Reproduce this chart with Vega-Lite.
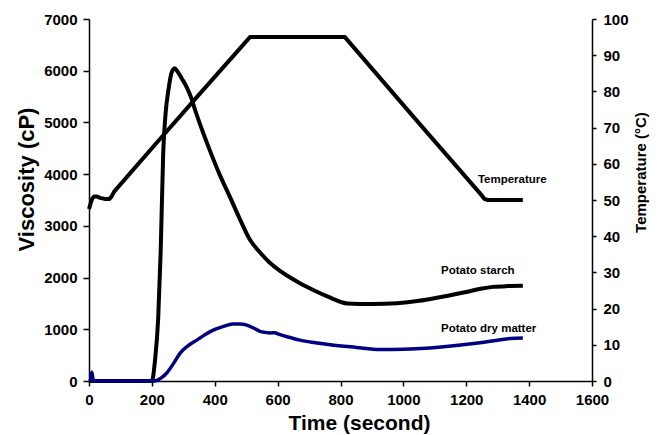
{
  "$schema": "https://vega.github.io/schema/vega-lite/v6.json",
  "width": 503,
  "height": 362,
  "autosize": "none",
  "padding": {"left": 89, "top": 19, "right": 65, "bottom": 54},
  "background": "white",
  "config": {
    "view": {"stroke": null},
    "font": "Liberation Sans",
    "axis": {
      "grid": false,
      "domainColor": "black",
      "domainWidth": 1.5,
      "tickColor": "black",
      "tickWidth": 1.5,
      "labelFont": "Liberation Sans",
      "labelFontWeight": "bold",
      "labelFontSize": 15,
      "labelColor": "black",
      "titleFont": "Liberation Sans",
      "titleFontWeight": "bold",
      "titleColor": "black",
      "format": "d"
    }
  },
  "datasets": {
    "starch": [
      {"t": 0, "v": 0}, {"t": 200, "v": 0}, {"t": 210, "v": 400}, {"t": 220, "v": 1200},
      {"t": 228, "v": 2500}, {"t": 236, "v": 4400}, {"t": 244, "v": 5200}, {"t": 252, "v": 5600},
      {"t": 262, "v": 5950}, {"t": 272, "v": 6050}, {"t": 282, "v": 5980}, {"t": 295, "v": 5850},
      {"t": 311, "v": 5680}, {"t": 325, "v": 5480}, {"t": 337, "v": 5250}, {"t": 360, "v": 4850},
      {"t": 385, "v": 4450}, {"t": 415, "v": 4000}, {"t": 449, "v": 3550}, {"t": 480, "v": 3130},
      {"t": 512, "v": 2730}, {"t": 545, "v": 2480}, {"t": 576, "v": 2280}, {"t": 610, "v": 2120},
      {"t": 640, "v": 2000}, {"t": 671, "v": 1890}, {"t": 713, "v": 1760}, {"t": 760, "v": 1630},
      {"t": 800, "v": 1530}, {"t": 821, "v": 1500}, {"t": 900, "v": 1490}, {"t": 980, "v": 1505},
      {"t": 1050, "v": 1550}, {"t": 1116, "v": 1620}, {"t": 1200, "v": 1720}, {"t": 1250, "v": 1790},
      {"t": 1285, "v": 1820}, {"t": 1330, "v": 1835}, {"t": 1380, "v": 1840}
    ],
    "dry": [
      {"t": 0, "v": 0}, {"t": 5, "v": 30}, {"t": 9, "v": 170}, {"t": 12, "v": 60}, {"t": 15, "v": 0},
      {"t": 200, "v": 0}, {"t": 215, "v": 10}, {"t": 230, "v": 60}, {"t": 248, "v": 160},
      {"t": 270, "v": 350}, {"t": 290, "v": 540}, {"t": 315, "v": 680}, {"t": 343, "v": 790},
      {"t": 370, "v": 900}, {"t": 395, "v": 985}, {"t": 425, "v": 1050}, {"t": 458, "v": 1100},
      {"t": 480, "v": 1100}, {"t": 502, "v": 1080}, {"t": 525, "v": 1020}, {"t": 544, "v": 960},
      {"t": 560, "v": 940}, {"t": 576, "v": 930}, {"t": 590, "v": 935}, {"t": 605, "v": 900},
      {"t": 640, "v": 840}, {"t": 671, "v": 790}, {"t": 720, "v": 740}, {"t": 767, "v": 700},
      {"t": 850, "v": 650}, {"t": 926, "v": 610}, {"t": 1000, "v": 615}, {"t": 1085, "v": 640},
      {"t": 1160, "v": 680}, {"t": 1244, "v": 740}, {"t": 1300, "v": 790}, {"t": 1340, "v": 820},
      {"t": 1380, "v": 830}
    ],
    "temp": [
      {"t": 0, "c": 47.5}, {"t": 5, "c": 49}, {"t": 10, "c": 50.3}, {"t": 16, "c": 51},
      {"t": 24, "c": 51}, {"t": 35, "c": 50.6}, {"t": 50, "c": 50.3}, {"t": 65, "c": 50.3},
      {"t": 72, "c": 51}, {"t": 80, "c": 52.3}, {"t": 200, "c": 64.3}, {"t": 350, "c": 79.1},
      {"t": 512, "c": 95}, {"t": 814, "c": 95}, {"t": 1035, "c": 72.7}, {"t": 1250, "c": 51.2},
      {"t": 1258, "c": 50.3}, {"t": 1268, "c": 50}, {"t": 1380, "c": 50}
    ],
    "labels": [
      {"t": 1237, "v": 3887, "label": "Temperature"},
      {"t": 1120, "v": 2127, "label": "Potato starch"},
      {"t": 1120, "v": 1005, "label": "Potato dry matter"}
    ]
  },
  "encoding": {
    "x": {
      "field": "t",
      "type": "quantitative",
      "scale": {"domain": [0, 1600], "nice": false, "zero": false},
      "axis": {
        "title": "Time (second)",
        "titleFontSize": 21,
        "titleX": 270,
        "titleY": 42,
        "titleBaseline": "middle",
        "values": [0, 200, 400, 600, 800, 1000, 1200, 1400, 1600],
        "tickSize": 5,
        "labelPadding": 6,
        "labelFlush": false,
        "labelOverlap": false
      }
    }
  },
  "layer": [
    {
      "layer": [
        {
          "data": {"name": "starch"},
          "mark": {"type": "line", "color": "black", "strokeWidth": 4, "interpolate": "monotone"},
          "encoding": {
            "y": {
              "field": "v",
              "type": "quantitative",
              "scale": {"domain": [0, 7000], "nice": false},
              "axis": {
                "title": "Viscosity (cP)",
                "titleFontSize": 22,
                "titleAngle": -90,
                "titleX": -63,
                "titleY": 160,
                "titleAlign": "center",
                "titleBaseline": "middle",
                "values": [0, 1000, 2000, 3000, 4000, 5000, 6000, 7000],
                "tickSize": 6,
                "labelPadding": 6,
                "labelFlush": false,
                "labelOverlap": false
              }
            }
          }
        },
        {
          "data": {"name": "dry"},
          "mark": {"type": "line", "color": "#000080", "strokeWidth": 3.5, "interpolate": "monotone"},
          "encoding": {
            "y": {"field": "v", "type": "quantitative"}
          }
        },
        {
          "data": {"name": "labels"},
          "mark": {"type": "text", "align": "left", "baseline": "middle", "fontWeight": "bold", "fontSize": 11.5, "color": "black", "font": "Liberation Sans"},
          "encoding": {
            "y": {"field": "v", "type": "quantitative"},
            "text": {"field": "label"}
          }
        }
      ]
    },
    {
      "data": {"name": "temp"},
      "mark": {"type": "line", "color": "black", "strokeWidth": 4, "interpolate": "linear", "strokeJoin": "round"},
      "encoding": {
        "y": {
          "field": "c",
          "type": "quantitative",
          "scale": {"domain": [0, 100], "nice": false},
          "axis": {
            "orient": "right",
            "title": "Temperature (°C)",
            "titleFontSize": 15,
            "titleAngle": -90,
            "titleX": 48,
            "titleY": 153,
            "titleAlign": "center",
            "titleBaseline": "middle",
            "values": [0, 10, 20, 30, 40, 50, 60, 70, 80, 90, 100],
            "tickSize": 4,
            "labelPadding": 7,
            "labelFlush": false,
            "labelOverlap": false
          }
        }
      }
    }
  ],
  "resolve": {"scale": {"y": "independent"}}
}
